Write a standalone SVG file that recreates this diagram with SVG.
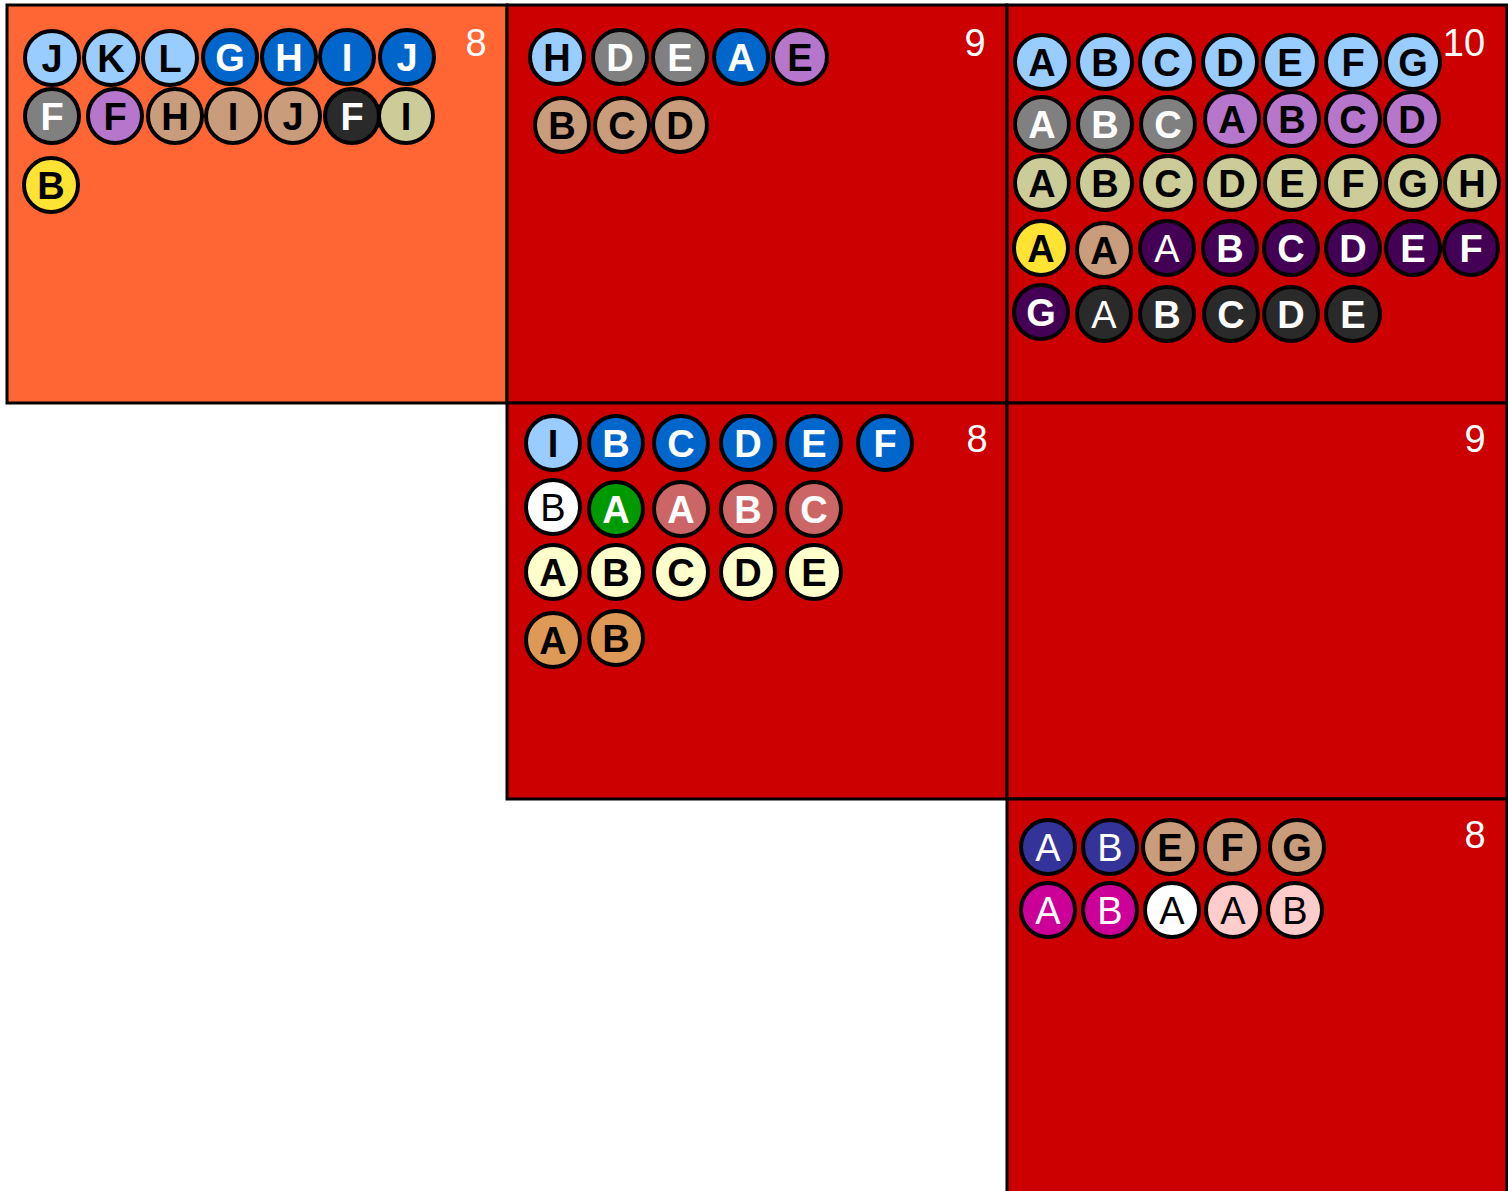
<svg xmlns="http://www.w3.org/2000/svg" width="1508" height="1191" viewBox="0 0 1508 1191">
<style>
.cell{stroke:#000;stroke-width:3}
.org{fill:#FF6633}
.red{fill:#CC0000}
.n circle{stroke:#000;stroke-width:4}
.n text{font-family:"Liberation Sans",Arial,sans-serif;font-size:38px;text-anchor:middle}
.num{font-family:"Liberation Sans",Arial,sans-serif;font-size:38px;fill:#fff;text-anchor:middle}
.lb{fill:#99CCFF}.bl{fill:#0066CC}.gr{fill:#808080}.pu{fill:#B576CB}.tn{fill:#C99C7C}
.dk{fill:#2A2A2A}.kh{fill:#CCCC99}.ye{fill:#FFE333}.dp{fill:#440055}.gn{fill:#009900}
.ir{fill:#CC6666}.ly{fill:#FFFFCC}.ot{fill:#DD9955}.nv{fill:#333399}.mg{fill:#CC0099}
.pk{fill:#FFCCCC}.wh{fill:#FFFFFF}
.tb{fill:#000;font-weight:bold}.tw{fill:#fff;font-weight:bold}
.rb{fill:#000}.rw{fill:#fff}
</style>
<g id="connectors"/>
<g id="cell1">
<rect class="cell org" x="7" y="5" width="500" height="398"/>
<text class="num" x="476" y="56">8</text>
<g class="n">
<circle class="lb" cx="52" cy="58" r="27"/><text class="tb" x="52" y="72">J</text>
<circle class="lb" cx="111" cy="58" r="27"/><text class="tb" x="111" y="72">K</text>
<circle class="lb" cx="170" cy="58" r="27"/><text class="tb" x="170" y="72">L</text>
<circle class="bl" cx="230" cy="57" r="27"/><text class="tw" x="230" y="71">G</text>
<circle class="bl" cx="289" cy="57" r="27"/><text class="tw" x="289" y="71">H</text>
<circle class="bl" cx="347" cy="57" r="27"/><text class="tw" x="347" y="71">I</text>
<circle class="bl" cx="407" cy="57" r="27"/><text class="tw" x="407" y="71">J</text>
<circle class="gr" cx="52" cy="116" r="27"/><text class="tw" x="52" y="130">F</text>
<circle class="pu" cx="115" cy="116" r="27"/><text class="tb" x="115" y="130">F</text>
<circle class="tn" cx="175" cy="116" r="27"/><text class="tb" x="175" y="130">H</text>
<circle class="tn" cx="233" cy="116" r="27"/><text class="tb" x="233" y="130">I</text>
<circle class="tn" cx="293" cy="116" r="27"/><text class="tb" x="293" y="130">J</text>
<circle class="dk" cx="352" cy="116" r="27"/><text class="tw" x="352" y="130">F</text>
<circle class="kh" cx="406" cy="116" r="27"/><text class="tb" x="406" y="130">I</text>
<circle class="ye" cx="51" cy="185" r="27"/><text class="tb" x="51" y="199">B</text>
</g>
</g>
<g id="cell2">
<rect class="cell red" x="507" y="5" width="500" height="398"/>
<text class="num" x="975" y="56">9</text>
<g class="n">
<circle class="lb" cx="557" cy="57" r="27"/><text class="tb" x="557" y="71">H</text>
<circle class="gr" cx="620" cy="57" r="27"/><text class="tw" x="620" y="71">D</text>
<circle class="gr" cx="680" cy="57" r="27"/><text class="tw" x="680" y="71">E</text>
<circle class="bl" cx="741" cy="57" r="27"/><text class="tw" x="741" y="71">A</text>
<circle class="pu" cx="800" cy="57" r="27"/><text class="tb" x="800" y="71">E</text>
<circle class="tn" cx="562" cy="125" r="27"/><text class="tb" x="562" y="139">B</text>
<circle class="tn" cx="622" cy="125" r="27"/><text class="tb" x="622" y="139">C</text>
<circle class="tn" cx="680" cy="125" r="27"/><text class="tb" x="680" y="139">D</text>
</g>
</g>
<g id="cell3">
<rect class="cell red" x="1007" y="5" width="500" height="398"/>
<text class="num" x="1464" y="56">10</text>
<g class="n">
<circle class="lb" cx="1042" cy="62" r="27"/><text class="tb" x="1042" y="76">A</text>
<circle class="lb" cx="1105" cy="62" r="27"/><text class="tb" x="1105" y="76">B</text>
<circle class="lb" cx="1167" cy="62" r="27"/><text class="tb" x="1167" y="76">C</text>
<circle class="lb" cx="1230" cy="62" r="27"/><text class="tb" x="1230" y="76">D</text>
<circle class="lb" cx="1290" cy="62" r="27"/><text class="tb" x="1290" y="76">E</text>
<circle class="lb" cx="1353" cy="62" r="27"/><text class="tb" x="1353" y="76">F</text>
<circle class="lb" cx="1413" cy="62" r="27"/><text class="tb" x="1413" y="76">G</text>
<circle class="gr" cx="1042" cy="124" r="27"/><text class="tw" x="1042" y="138">A</text>
<circle class="gr" cx="1105" cy="124" r="27"/><text class="tw" x="1105" y="138">B</text>
<circle class="gr" cx="1168" cy="124" r="27"/><text class="tw" x="1168" y="138">C</text>
<circle class="pu" cx="1232" cy="119" r="27"/><text class="tb" x="1232" y="133">A</text>
<circle class="pu" cx="1292" cy="119" r="27"/><text class="tb" x="1292" y="133">B</text>
<circle class="pu" cx="1353" cy="119" r="27"/><text class="tb" x="1353" y="133">C</text>
<circle class="pu" cx="1412" cy="119" r="27"/><text class="tb" x="1412" y="133">D</text>
<circle class="kh" cx="1042" cy="183" r="27"/><text class="tb" x="1042" y="197">A</text>
<circle class="kh" cx="1105" cy="183" r="27"/><text class="tb" x="1105" y="197">B</text>
<circle class="kh" cx="1168" cy="183" r="27"/><text class="tb" x="1168" y="197">C</text>
<circle class="kh" cx="1232" cy="183" r="27"/><text class="tb" x="1232" y="197">D</text>
<circle class="kh" cx="1292" cy="183" r="27"/><text class="tb" x="1292" y="197">E</text>
<circle class="kh" cx="1353" cy="183" r="27"/><text class="tb" x="1353" y="197">F</text>
<circle class="kh" cx="1413" cy="183" r="27"/><text class="tb" x="1413" y="197">G</text>
<circle class="kh" cx="1472" cy="183" r="27"/><text class="tb" x="1472" y="197">H</text>
<circle class="ye" cx="1041" cy="248" r="27"/><text class="tb" x="1041" y="262">A</text>
<circle class="tn" cx="1104" cy="250" r="27"/><text class="tb" x="1104" y="264">A</text>
<circle class="dp" cx="1167" cy="248" r="27"/><text class="rw" x="1167" y="262">A</text>
<circle class="dp" cx="1230" cy="248" r="27"/><text class="tw" x="1230" y="262">B</text>
<circle class="dp" cx="1291" cy="248" r="27"/><text class="tw" x="1291" y="262">C</text>
<circle class="dp" cx="1353" cy="248" r="27"/><text class="tw" x="1353" y="262">D</text>
<circle class="dp" cx="1413" cy="248" r="27"/><text class="tw" x="1413" y="262">E</text>
<circle class="dp" cx="1471" cy="248" r="27"/><text class="tw" x="1471" y="262">F</text>
<circle class="dp" cx="1041" cy="312" r="27"/><text class="tw" x="1041" y="326">G</text>
<circle class="dk" cx="1104" cy="314" r="27"/><text class="rw" x="1104" y="328">A</text>
<circle class="dk" cx="1167" cy="314" r="27"/><text class="tw" x="1167" y="328">B</text>
<circle class="dk" cx="1231" cy="314" r="27"/><text class="tw" x="1231" y="328">C</text>
<circle class="dk" cx="1291" cy="314" r="27"/><text class="tw" x="1291" y="328">D</text>
<circle class="dk" cx="1353" cy="314" r="27"/><text class="tw" x="1353" y="328">E</text>
</g>
</g>
<g id="cell4">
<rect class="cell red" x="507" y="403" width="500" height="396"/>
<text class="num" x="977" y="452">8</text>
<g class="n">
<circle class="lb" cx="553" cy="443" r="27"/><text class="tb" x="553" y="457">I</text>
<circle class="bl" cx="616" cy="443" r="27"/><text class="tw" x="616" y="457">B</text>
<circle class="bl" cx="681" cy="443" r="27"/><text class="tw" x="681" y="457">C</text>
<circle class="bl" cx="748" cy="443" r="27"/><text class="tw" x="748" y="457">D</text>
<circle class="bl" cx="814" cy="443" r="27"/><text class="tw" x="814" y="457">E</text>
<circle class="bl" cx="885" cy="443" r="27"/><text class="tw" x="885" y="457">F</text>
<circle class="wh" cx="553" cy="507" r="27"/><text class="rb" x="553" y="521">B</text>
<circle class="gn" cx="616" cy="509" r="27"/><text class="tw" x="616" y="523">A</text>
<circle class="ir" cx="681" cy="509" r="27"/><text class="tw" x="681" y="523">A</text>
<circle class="ir" cx="748" cy="509" r="27"/><text class="tw" x="748" y="523">B</text>
<circle class="ir" cx="814" cy="509" r="27"/><text class="tw" x="814" y="523">C</text>
<circle class="ly" cx="553" cy="572" r="27"/><text class="tb" x="553" y="586">A</text>
<circle class="ly" cx="616" cy="572" r="27"/><text class="tb" x="616" y="586">B</text>
<circle class="ly" cx="681" cy="572" r="27"/><text class="tb" x="681" y="586">C</text>
<circle class="ly" cx="748" cy="572" r="27"/><text class="tb" x="748" y="586">D</text>
<circle class="ly" cx="814" cy="572" r="27"/><text class="tb" x="814" y="586">E</text>
<circle class="ot" cx="553" cy="640" r="27"/><text class="tb" x="553" y="654">A</text>
<circle class="ot" cx="616" cy="638" r="27"/><text class="tb" x="616" y="652">B</text>
</g>
</g>
<g id="cell5">
<rect class="cell red" x="1007" y="403" width="500" height="396"/>
<text class="num" x="1475" y="452">9</text>
</g>
<g id="cell6">
<rect class="cell red" x="1007" y="799" width="500" height="400"/>
<text class="num" x="1475" y="848">8</text>
<g class="n">
<circle class="nv" cx="1048" cy="847" r="27"/><text class="rw" x="1048" y="861">A</text>
<circle class="nv" cx="1110" cy="847" r="27"/><text class="rw" x="1110" y="861">B</text>
<circle class="tn" cx="1170" cy="847" r="27"/><text class="tb" x="1170" y="861">E</text>
<circle class="tn" cx="1232" cy="847" r="27"/><text class="tb" x="1232" y="861">F</text>
<circle class="tn" cx="1297" cy="847" r="27"/><text class="tb" x="1297" y="861">G</text>
<circle class="mg" cx="1048" cy="910" r="27"/><text class="rw" x="1048" y="924">A</text>
<circle class="mg" cx="1110" cy="910" r="27"/><text class="rw" x="1110" y="924">B</text>
<circle class="wh" cx="1172" cy="910" r="27"/><text class="rb" x="1172" y="924">A</text>
<circle class="pk" cx="1233" cy="910" r="27"/><text class="rb" x="1233" y="924">A</text>
<circle class="pk" cx="1295" cy="910" r="27"/><text class="rb" x="1295" y="924">B</text>
</g>
</g>
</svg>
